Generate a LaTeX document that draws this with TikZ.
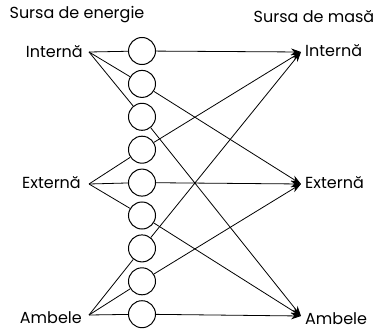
\documentclass[tikz,border=0pt]{standalone}
\usepackage{fontspec}
\setmainfont{Poppins}
\usetikzlibrary{arrows.meta}
\tikzset{
  combo/.style={circle,draw,line width=1pt,minimum size=27pt,inner sep=0pt},
  lbl/.style={font=\fontsize{16}{18}\selectfont,inner sep=0pt},
  link/.style={line width=0.8pt},
  arr/.style={line width=0.8pt,-{Stealth[length=10pt,width=7pt]}}
}
\begin{document}
\begin{tikzpicture}[x=1pt,y=-1pt]
\useasboundingbox (0,0) rectangle (380,329);
% headings
\node[lbl] (h1) at (77,15) {Sursa de energie};
\node[lbl] (h2) at (314,17) {Sursa de masă};
% circles
\foreach \i in {1,...,9}{
  \node[combo] (c\i) at (142,{51+32.9*(\i-1)}) {};
}
% source apexes
\coordinate (si) at (89,52);
\coordinate (se) at (89,184);
\coordinate (sa) at (89,315);
% targets
\coordinate (ti) at (301,52);
\coordinate (te) at (301,184);
\coordinate (ta) at (301,316);
% labels
\node[lbl,anchor=east] (li) at (83,52) {Internă};
\node[lbl,anchor=east] (le) at (81,183) {Externă};
\node[lbl,anchor=east] (la) at (82,318) {Ambele};
\node[lbl,anchor=west] (ri) at (305,51) {Internă};
\node[lbl,anchor=west] (re) at (305,183) {Externă};
\node[lbl,anchor=west] (ra) at (305,319) {Ambele};
% source to circles
\draw[link] (si) -- (c1); \draw[link] (si) -- (c2); \draw[link] (si) -- (c3);
\draw[link] (se) -- (c4); \draw[link] (se) -- (c5); \draw[link] (se) -- (c6);
\draw[link] (sa) -- (c7); \draw[link] (sa) -- (c8); \draw[link] (sa) -- (c9);
% circles to targets
\draw[arr] (c1) -- (ti);
\draw[arr] (c2) -- (te);
\draw[arr] (c3) -- (ta);
\draw[arr] (c4) -- (ti);
\draw[arr] (c5) -- (te);
\draw[arr] (c6) -- (ta);
\draw[arr] (c7) -- (ti);
\draw[arr] (c8) -- (te);
\draw[arr] (c9) -- (ta);
\end{tikzpicture}
\end{document}
